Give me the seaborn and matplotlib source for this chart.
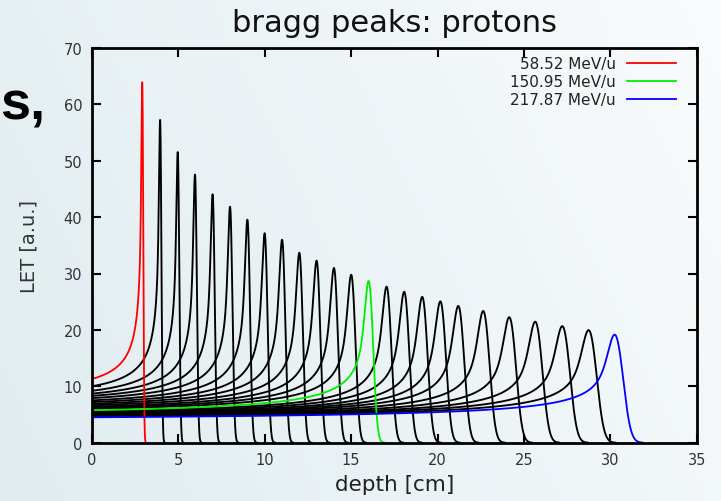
import numpy as np
import pandas as pd
import matplotlib
matplotlib.use("Agg")
import matplotlib.pyplot as plt
import seaborn as sns

# ---------------- data ----------------
# depth of each Bragg peak [cm], LET at the peak, LET at the entrance (depth 0)
peak_depth = [2.91, 3.94, 4.96, 5.96, 6.98, 7.99, 8.99, 9.99, 11.0, 12.0, 13.0, 14.0,
              15.0, 16.01, 17.05, 18.07, 19.11, 20.16, 21.2, 22.64, 24.15, 25.65,
              27.22, 28.74, 30.25]
peak_let = [63.9, 57.2, 51.5, 47.5, 44.0, 41.8, 39.5, 37.1, 35.9, 33.6, 32.2, 30.9,
            29.7, 28.6, 27.6, 26.7, 25.8, 25.0, 24.2, 23.3, 22.2, 21.4,
            20.6, 19.9, 19.1]
entrance_let = [11.3, 10.0, 9.2, 8.7, 8.3, 7.9, 7.5, 7.2, 6.9, 6.65, 6.4, 6.2,
                6.0, 5.75, 5.55, 5.4, 5.25, 5.15, 5.05, 4.95, 4.85, 4.75,
                4.7, 4.6, 4.5]
# curves that are named in the legend (index into the arrays above)
highlight_index = [0, 13, 24]
highlight_labels = ["58.52 MeV/u", "150.95 MeV/u", "217.87 MeV/u"]

x_ticks = [0, 5, 10, 15, 20, 25, 30, 35]
y_ticks = [0, 10, 20, 30, 40, 50, 60, 70]
title = "bragg peaks: protons"
x_label = "depth [cm]"
y_label = "LET [a.u.]"


# ---------------- Bragg curve shape from the read parameters ----------------
def bragg_curve(depth_peak, entrance, peak, x, k=0.6):
    dx = x[1] - x[0]
    sigma = 0.0125 * depth_peak + 0.012
    n = int(5 * sigma / dx) + 1
    kx = dx * np.arange(-n, n + 1)
    kern = np.exp(-0.5 * (kx / sigma) ** 2)
    kern /= kern.sum()
    R = depth_peak + 0.6 * sigma
    y = None
    for _ in range(3):
        lo = x - dx / 2
        hi = x + dx / 2
        r_lo = np.clip(R - lo, 0, None)
        r_hi = np.clip(R - hi, 0, None)
        step = (r_lo - r_hi) / dx
        power = (r_lo ** (1 - k) - r_hi ** (1 - k)) / ((1 - k) * dx)
        H1 = np.convolve(step, kern, mode="same")
        H2 = np.convolve(power, kern, mode="same")
        i0 = np.argmin(np.abs(x))
        ip = np.argmax(H2)
        a, b = np.linalg.solve([[H1[i0], H2[i0]], [H1[ip], H2[ip]]], [entrance, peak])
        y = a * H1 + b * H2
        xp = x[np.argmax(y)]
        R += depth_peak - xp
    return y


grid = np.arange(-2.0, 35.5, 0.005)
rows = []
for i, (d, p, e) in enumerate(zip(peak_depth, peak_let, entrance_let)):
    y = bragg_curve(d, e, p, grid)
    ipk = np.argmax(y)
    after = np.where(y[ipk:] < 0.02)[0]
    iend = ipk + (after[0] if len(after) else len(y) - ipk - 1)
    m = (grid >= 0) & (np.arange(len(grid)) <= iend)
    label = highlight_labels[highlight_index.index(i)] if i in highlight_index else "other"
    rows.append(pd.DataFrame({"depth": grid[m], "LET": y[m], "curve": i, "label": label}))
df = pd.concat(rows, ignore_index=True)
df_black = df[df["label"] == "other"]
df_col = df[df["label"] != "other"]

# ---------------- figure ----------------
W, H = 721, 502
fig = plt.figure(figsize=(W / 100, H / 100), dpi=100)

# slide background gradient
xx = np.linspace(0, 1, W)[None, :]
yy = np.linspace(0, 1, H)[:, None]
t = np.clip(0.75 * xx + 0.25 * (1 - yy), 0, 1)
left_c = np.array([224, 236, 240]) / 255
right_c = np.array([249, 251, 252]) / 255
bg = left_c[None, None, :] + (right_c - left_c)[None, None, :] * t[..., None]
fig.figimage(bg, xo=0, yo=0, origin="upper", zorder=-10)

ax = fig.add_axes([92 / W, 1 - 443.7 / H, 604.7 / W, 394.8 / H])
ax.set_facecolor("none")

sns.lineplot(data=df_black, x="depth", y="LET", units="curve", estimator=None,
             color="black", lw=1.35, legend=False, sort=False, ax=ax)
pal = dict(zip(highlight_labels, ["#ff0000", "#00ee00", "#0000ff"]))
sns.lineplot(data=df_col, x="depth", y="LET", hue="label", hue_order=highlight_labels,
             units="curve", estimator=None, palette=pal, lw=1.3, sort=False, ax=ax)

ax.set_xlim(0, 35)
ax.set_ylim(0, 70)
ax.set_xticks(x_ticks)
ax.set_yticks(y_ticks)
ax.tick_params(direction="in", length=6.5, width=1.5, top=True, right=True,
               labelsize=10.5, labelcolor="#333333", pad=7)
for s in ax.spines.values():
    s.set_linewidth(2)
    s.set_color("black")

ax.set_title(title, fontsize=22, color="#111111", y=1.0436, pad=0)
ax.set_xlabel(x_label, fontsize=15.5, color="#222222")
ax.xaxis.set_label_coords(0.5, -0.119)
ax.xaxis.label.set_verticalalignment("baseline")
ax.set_ylabel(y_label, fontsize=14, color="#333333")
ax.yaxis.set_label_coords(-0.1042, 0.5)
ax.yaxis.label.set_verticalalignment("center")

handles, labels = ax.get_legend_handles_labels()
leg = ax.legend(handles, labels, loc="upper right", bbox_to_anchor=(0.9653, 0.9785),
                markerfirst=False, frameon=False, fontsize=11, handlelength=3.2,
                handletextpad=0.72, labelspacing=0.18, borderpad=0, borderaxespad=0)
for txt in leg.get_texts():
    txt.set_color("#222222")

# fragment of slide text at the left edge
fig.text(0.5 / W, 1 - 120 / H, "s,", fontsize=39, fontweight="bold",
         family="Liberation Sans", color="black", va="baseline", ha="left")

fig.savefig("out.png", dpi=100)
